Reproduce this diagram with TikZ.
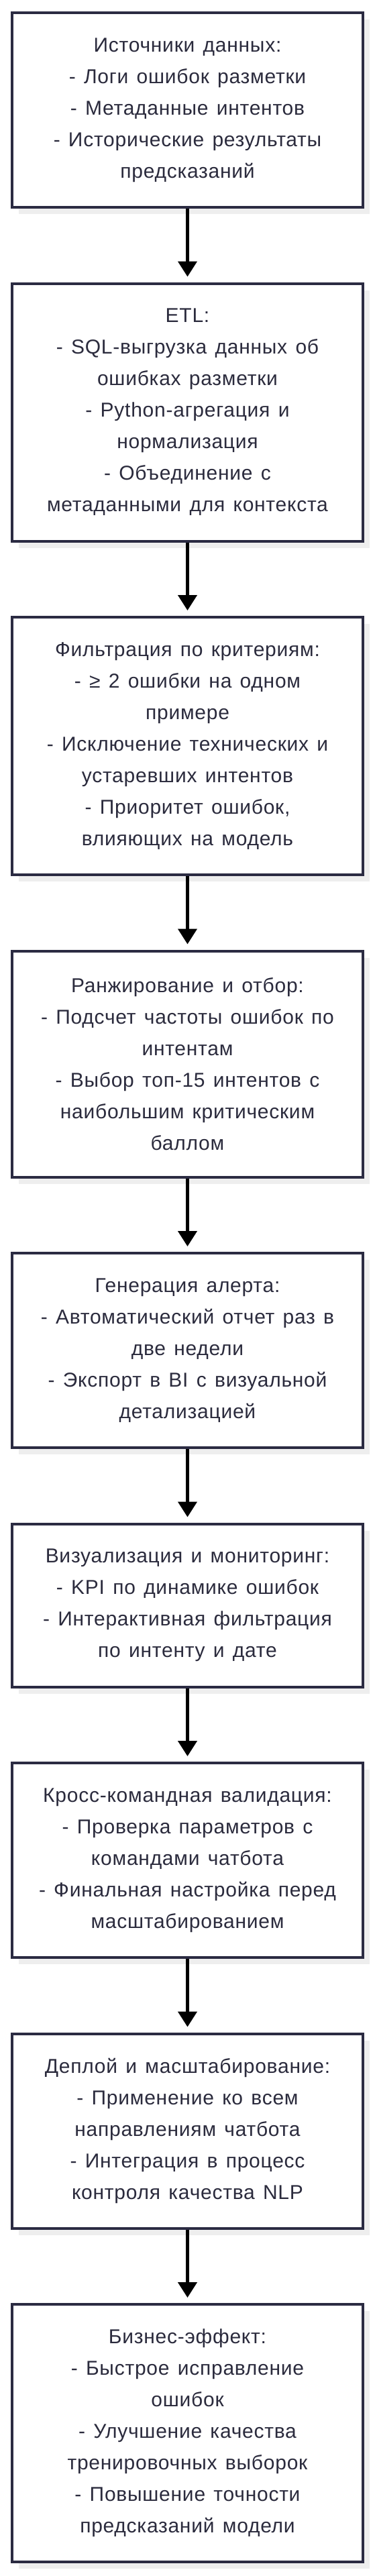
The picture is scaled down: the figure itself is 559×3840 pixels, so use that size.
\documentclass[tikz,border=0pt]{standalone}
\usepackage{fontspec}
\setmainfont{Liberation Sans}[WordSpace=1.35, LetterSpace=2.5]
\usepackage{tikz}
\usepackage{xcolor}
\usetikzlibrary{arrows.meta}
\usetikzlibrary{shadows}

\definecolor{boxline}{HTML}{2B2B42}
\definecolor{boxtext}{HTML}{2B2B3D}
\definecolor{boxshadow}{HTML}{EEEEEE}

\begin{document}
\begin{tikzpicture}[x=1pt, y=1pt,
    stage/.style={draw=boxline, line width=4pt, fill=white, text=boxtext,
	minimum width=523pt, align=center, font=\fontsize{30}{47}\selectfont,
	drop shadow={shadow xshift=10pt, shadow yshift=-10pt, fill=boxshadow,
	opacity=1}},
    flow/.style={-{Triangle[width=28pt, length=23pt]}, line width=4.5pt,
	shorten >=8pt}]
    \useasboundingbox (-279.5, 0) rectangle (279.5, -3840);

    \path (0, -164) node [stage, minimum height=290pt] (src) {Источники данных:\\
	- Логи ошибок разметки\\- Метаданные интентов\\
	- Исторические результаты\\предсказаний};
    \path (0, -614.5) node [stage, minimum height=384pt] (etl) {ETL:\\
	- SQL-выгрузка данных об\\ошибках разметки\\- Python-агрегация и\\
	нормализация\\- Объединение с\\метаданными для контекста};
    \draw [flow] (src) -- (etl);
    \path (0, -1112) node [stage, minimum height=384pt] (filt) {Фильтрация по критериям:\\
	- ≥ 2 ошибки на одном\\примере\\- Исключение технических и\\
	устаревших интентов\\- Приоритет ошибок,\\влияющих на модель};
    \draw [flow] (etl) -- (filt);
    \path (0, -1586) node [stage, minimum height=337pt] (rank) {Ранжирование и отбор:\\
	- Подсчет частоты ошибок по\\интентам\\- Выбор топ-15 интентов с\\
	наибольшим критическим\\баллом};
    \draw [flow] (filt) -- (rank);
    \path (0, -2013) node [stage, minimum height=290pt] (alert) {Генерация алерта:\\
	- Автоматический отчет раз в\\две недели\\
	- Экспорт в BI с визуальной\\детализацией};
    \draw [flow] (rank) -- (alert);
    \path (0, -2393) node [stage, minimum height=243pt] (viz) {Визуализация и мониторинг:\\
	- KPI по динамике ошибок\\- Интерактивная фильтрация\\по интенту и дате};
    \draw [flow] (alert) -- (viz);
    \path (0, -2773) node [stage, minimum height=290pt] (valid) {Кросс-командная валидация:\\
	- Проверка параметров с\\командами чатбота\\
	- Финальная настройка перед\\масштабированием};
    \draw [flow] (viz) -- (valid);
    \path (0, -3176.5) node [stage, minimum height=290pt] (depl) {Деплой и масштабирование:\\
	- Применение ко всем\\направлениям чатбота\\
	- Интеграция в процесс\\контроля качества NLP};
    \draw [flow] (valid) -- (depl);
    \path (0, -3627) node [stage, minimum height=384pt] (biz) {Бизнес-эффект:\\
	- Быстрое исправление\\ошибок\\- Улучшение качества\\
	тренировочных выборок\\- Повышение точности\\предсказаний модели};
    \draw [flow] (depl) -- (biz);
\end{tikzpicture}
\end{document}
